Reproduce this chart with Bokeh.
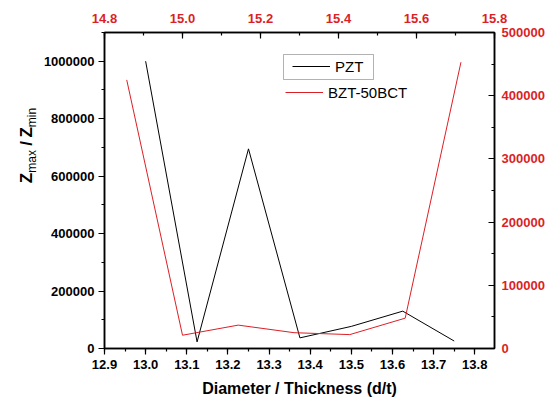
import math
from bokeh.plotting import figure
from bokeh.layouts import row
from bokeh.models import (Range1d, LinearAxis, SingleIntervalTicker, BasicTickFormatter,
                          PrintfTickFormatter, Legend, LegendItem, Label, BoxAnnotation)
from bokeh.embed import file_html
from bokeh.resources import INLINE

# ---- data ----
pzt_x = [13.0, 13.125, 13.25, 13.375, 13.5, 13.625, 13.75]
pzt_y = [1000000, 23000, 695000, 37000, 77000, 130000, 26000]
bzt_x = [14.857, 15.0, 15.143, 15.286, 15.429, 15.571, 15.714]
bzt_y = [425000, 21000, 37000, 25000, 22000, 48000, 453000]
series_names = ["PZT", "BZT-50BCT"]
x_label = "Diameter / Thickness (d/t)"
y_label_parts = ["Z", "max", "/", "Z", "min"]

RED = "#dc1f26"
FONT = "Liberation Sans"
LW = 40  # width of the strip holding the y-axis label

p = figure(width=552 - LW, height=400, output_backend="svg", toolbar_location=None,
           x_range=Range1d(12.9, 13.848), y_range=Range1d(0, 1100000),
           min_border_left=103 - LW, min_border_right=58, min_border_top=32, min_border_bottom=52)
p.extra_x_ranges = {"top": Range1d(14.8, 15.8)}
p.extra_y_ranges = {"right": Range1d(0, 500000)}
p.xgrid.visible = False
p.ygrid.visible = False
p.outline_line_color = "black"
p.outline_line_width = 1.5
p.background_fill_color = "white"
p.border_fill_color = "white"

def style_axis(ax, color, outward):
    ax.axis_line_color = "black"
    ax.axis_line_width = 1.5
    ax.major_tick_line_color = "black"
    ax.minor_tick_line_color = "black"
    ax.major_tick_line_width = 1.2
    ax.minor_tick_line_width = 1.2
    if outward:
        ax.major_tick_out, ax.major_tick_in = 6, 0
        ax.minor_tick_out, ax.minor_tick_in = 3, 0
    else:
        ax.major_tick_out, ax.major_tick_in = 0, 6
        ax.minor_tick_out, ax.minor_tick_in = 0, 3
    ax.major_label_text_font = FONT
    ax.major_label_text_font_size = "13px"
    ax.major_label_text_font_style = "bold"
    ax.major_label_text_color = color

xb = p.xaxis[0]
xb.ticker = SingleIntervalTicker(interval=0.1, num_minor_ticks=2)
xb.formatter = PrintfTickFormatter(format="%.1f")
style_axis(xb, "black", True)
xb.major_label_standoff = 5
xb.axis_label = x_label
xb.axis_label_text_font = FONT
xb.axis_label_text_font_size = "16px"
xb.axis_label_text_font_style = "bold"
xb.axis_label_text_color = "black"
xb.axis_label_standoff = 8

yl = p.yaxis[0]
yl.ticker = SingleIntervalTicker(interval=200000, num_minor_ticks=2)
yl.formatter = BasicTickFormatter(use_scientific=False)
style_axis(yl, "black", True)
yl.major_label_standoff = 4

xt = LinearAxis(x_range_name="top",
                ticker=SingleIntervalTicker(interval=0.2, num_minor_ticks=2),
                formatter=PrintfTickFormatter(format="%.1f"))
style_axis(xt, RED, False)
xt.major_label_standoff = 10
p.add_layout(xt, "above")

yr = LinearAxis(y_range_name="right",
                ticker=SingleIntervalTicker(interval=100000, num_minor_ticks=2),
                formatter=BasicTickFormatter(use_scientific=False))
style_axis(yr, RED, False)
yr.major_label_standoff = 7
p.add_layout(yr, "right")

r1 = p.line(pzt_x, pzt_y, line_color="black", line_width=1)
r2 = p.line(bzt_x, bzt_y, line_color=RED, line_width=1,
            x_range_name="top", y_range_name="right")

def make_legend(item, renderer, loc):
    lg = Legend(items=[LegendItem(label=item, renderers=[renderer])], location=loc,
                border_line_color=None, background_fill_alpha=0, padding=0, margin=0,
                glyph_width=38, glyph_height=20, label_height=20, label_standoff=5,
                label_text_font=FONT, label_text_font_size="15px",
                label_text_color="black")
    p.add_layout(lg)

make_legend(series_names[0], r1, (188, 272))
make_legend(series_names[1], r2, (181, 246))
p.add_layout(BoxAnnotation(left=179, right=269, bottom=269, top=294,
                           left_units="screen", right_units="screen",
                           bottom_units="screen", top_units="screen",
                           fill_alpha=0, line_color="black", line_width=1))

# ---- strip with the rotated y-axis label (Z_max / Z_min) ----
lab = figure(width=LW, height=400, output_backend="svg", toolbar_location=None,
             x_range=Range1d(0, 1), y_range=Range1d(0, 1),
             x_axis_location=None, y_axis_location=None,
             min_border_left=0, min_border_right=0, min_border_top=0, min_border_bottom=0)
lab.xgrid.visible = False
lab.ygrid.visible = False
lab.outline_line_color = None
lab.background_fill_color = "white"
lab.border_fill_color = "white"

# (font size, style, baseline shift, advance before, advance after)
styles = [(17, "bold", 0, 0, 10.4), (12, "normal", 5, 0, 23.5),
          (17, "bold", 0, 3.5, 8.2), (17, "bold", 0, 0, 10.4), (12, "normal", 5, 0, 19.3)]
total = sum(s[3] + s[4] for s in styles)
ypos = (400 - 197) - total / 2
for txt, (fs, st, dx, pre, w) in zip(y_label_parts, styles):
    ypos += pre
    lab.add_layout(Label(x=26 + dx, y=ypos, x_units="screen", y_units="screen",
                         text=txt, angle=math.pi / 2, text_font=FONT,
                         text_font_size=f"{fs}px", text_font_style=st,
                         text_color="black",
                         text_align="left", text_baseline="alphabetic"))
    ypos += w

layout = row(lab, p, spacing=0)
open("out.html", "w").write(file_html(layout, INLINE))
